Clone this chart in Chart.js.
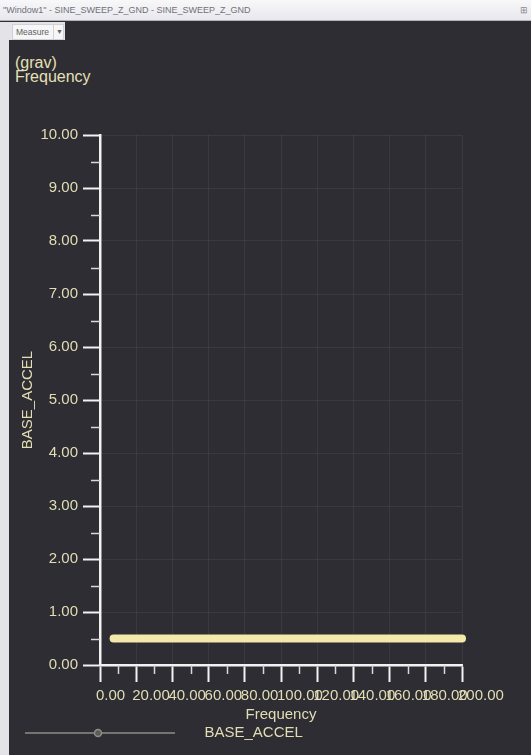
<!DOCTYPE html>
<html>
<head>
<meta charset="utf-8">
<title>SINE_SWEEP_Z_GND</title>
<script src="https://cdn.jsdelivr.net/npm/chart.js@4/dist/chart.umd.min.js"></script>
<style>
  html, body { margin: 0; padding: 0; width: 531px; height: 755px; overflow: hidden; background: #2d2d33; font-family: "Liberation Sans", Arial, sans-serif; }
  #titlebar { position: absolute; left: 0; top: 0; width: 531px; height: 21px; box-sizing: border-box; padding-left: 3px;
              background: linear-gradient(#f8f8fa, #e8e8ed); border-bottom: 1px solid #b4b4bc;
              font-size: 9px; line-height: 20px; color: #707078; white-space: nowrap; }
  #pin { position: absolute; right: 3px; top: 0; font-size: 9px; color: #8a8a90; }
  #strip { position: absolute; left: 0; top: 22px; width: 9px; height: 733px; background: #e4e4e8; }
  #measure { position: absolute; left: 9px; top: 22px; width: 56px; height: 18px; background: #e4e4e8; }
  #measure .btn { position: absolute; left: 3px; top: 2px; width: 52px; height: 16px; box-sizing: border-box;
                  background: #f6f6f6; border: 1px solid #d2d2d6; font-size: 8.5px; line-height: 14px; color: #606066; }
  #measure .lbl { position: absolute; left: 3px; top: 0; }
  #measure .arr { position: absolute; left: 40px; top: 0; width: 11px; height: 14px; border-left: 1px solid #d2d2d6; text-align: center; font-size: 7px; }
  #readout { position: absolute; left: 15px; top: 56px; color: #e6e0b6; font-size: 16px; line-height: 14px; }
  #plot { position: absolute; left: 9px; top: 40px; width: 522px; height: 715px; }
</style>
</head>
<body>
<div id="titlebar">"Window1" - SINE_SWEEP_Z_GND - SINE_SWEEP_Z_GND<span id="pin">&#8862;</span></div>
<div id="strip"></div>
<div id="measure"><div class="btn"><span class="lbl">Measure</span><span class="arr">&#9660;</span></div></div>
<div id="readout">(grav)<br>Frequency</div>
<div id="plot"><canvas id="chart" width="522" height="715"></canvas></div>
<script>
// Sweep readings: base acceleration (grav) against frequency
const frequency = [7.5, 200];
const baseAccel = [0.5, 0.5];

// Axis tick values
const xMajorTicks = [0, 20, 40, 60, 80, 100, 120, 140, 160, 180, 200];
const xMinorTicks = [10, 30, 50, 70, 90, 110, 130, 150, 170, 190];
const yMajorTicks = [0, 1, 2, 3, 4, 5, 6, 7, 8, 9, 10];
const yMinorTicks = [0.5, 1.5, 2.5, 3.5, 4.5, 5.5, 6.5, 7.5, 8.5, 9.5];

const TEXT = '#e3ddb4';
const AXIS = '#f2f2f2';
const GRID = 'rgba(255,255,255,0.06)';
const TRACE = '#f2e9ab';
const FONT = { family: '"Liberation Sans", Arial, sans-serif', size: 15 };

// Legend sample: thin line with a small circle marker
const legendSample = document.createElement('canvas');
legendSample.width = 186;
legendSample.height = 12;
(function () {
  const g = legendSample.getContext('2d');
  g.strokeStyle = '#8e8e86';
  g.lineWidth = 1.5;
  g.beginPath(); g.moveTo(14, 6); g.lineTo(164, 6); g.stroke();
  g.fillStyle = '#5c5c56';
  g.beginPath(); g.arc(87, 6, 3.5, 0, Math.PI * 2); g.fill(); g.stroke();
})();

// Half-length ticks between the labelled ones
const minorTickPlugin = {
  id: 'minorTicks',
  afterDraw(chart) {
    const { ctx, chartArea, scales: { x, y } } = chart;
    ctx.save();
    ctx.strokeStyle = '#d8d8d8';
    ctx.lineWidth = 1.5;
    xMinorTicks.forEach(v => {
      const px = Math.round(x.getPixelForValue(v)) + 0.5;
      ctx.beginPath(); ctx.moveTo(px, chartArea.bottom); ctx.lineTo(px, chartArea.bottom + 9); ctx.stroke();
    });
    yMinorTicks.forEach(v => {
      const py = Math.round(y.getPixelForValue(v)) + 0.5;
      ctx.beginPath(); ctx.moveTo(chartArea.left, py); ctx.lineTo(chartArea.left - 9, py); ctx.stroke();
    });
    ctx.restore();
  }
};

const points = frequency.map((f, i) => ({ x: f, y: baseAccel[i] }));

new Chart(document.getElementById('chart'), {
  type: 'line',
  data: {
    datasets: [{
      label: 'BASE_ACCEL',
      data: points,
      borderColor: TRACE,
      backgroundColor: TRACE,
      borderWidth: 8,
      borderCapStyle: 'round',
      pointRadius: 0,
      tension: 0,
      clip: false
    }]
  },
  options: {
    responsive: false,
    animation: false,
    events: [],
    layout: { padding: { top: 95, right: 69, bottom: 4.5, left: 0 } },
    scales: {
      x: {
        type: 'linear',
        min: 0,
        max: 200,
        afterBuildTicks: s => { s.ticks = xMajorTicks.map(v => ({ value: v })); },
        afterFit: s => { s.height = 58.5; },
        grid: { color: GRID, lineWidth: 1, tickColor: AXIS, tickLength: 17, tickWidth: 2 },
        border: { color: AXIS, width: 2.5 },
        ticks: {
          color: TEXT, font: FONT, padding: 5, maxRotation: 0, minRotation: 0, autoSkip: false,
          align: 'start', labelOffset: -4,
          callback: v => Number(v).toFixed(2)
        },
        title: { display: true, text: 'Frequency', color: TEXT, font: FONT, padding: { top: 0, bottom: 0 } }
      },
      y: {
        type: 'linear',
        min: 0,
        max: 10,
        afterBuildTicks: s => { s.ticks = yMajorTicks.map(v => ({ value: v })); },
        afterFit: s => { s.width = 91; },
        grid: { color: GRID, lineWidth: 1, tickColor: AXIS, tickLength: 17, tickWidth: 2 },
        border: { color: AXIS, width: 2.5 },
        ticks: { color: TEXT, font: FONT, padding: 5, callback: v => Number(v).toFixed(2) },
        title: { display: true, text: 'BASE_ACCEL', color: TEXT, font: FONT, padding: { top: 10, bottom: 0 } }
      }
    },
    plugins: {
      tooltip: { enabled: false },
      legend: {
        position: 'bottom',
        align: 'start',
        labels: {
          color: TEXT,
          font: FONT,
          padding: 2,
          usePointStyle: true,
          pointStyleWidth: 186,
          boxHeight: 10,
          generateLabels: chart => chart.data.datasets.map((ds, i) => ({
            text: ds.label, pointStyle: legendSample, datasetIndex: i, hidden: false, lineWidth: 0, fontColor: TEXT
          }))
        }
      }
    }
  },
  plugins: [minorTickPlugin]
});
</script>
</body>
</html>
